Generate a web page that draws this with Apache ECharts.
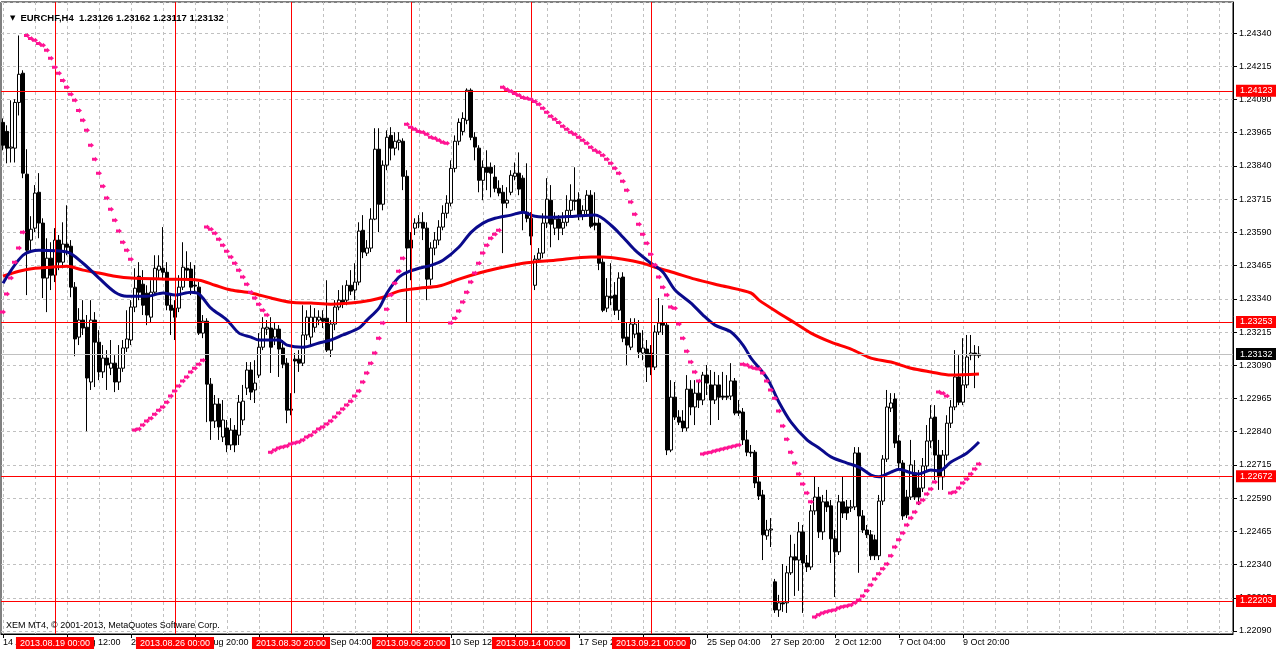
<!DOCTYPE html>
<html><head><meta charset="utf-8">
<script src="https://cdn.jsdelivr.net/npm/echarts@6/dist/echarts.min.js"></script>
<style>html,body{margin:0;padding:0;background:#fff}#c{width:1276px;height:652px}</style>
</head><body><div id="c"></div>
<script>
// Prices are stored in points (1 point = 0.00001)
const barOpen = [
124004,123970,123907,123907,124079,124189,123809,123561,123606,123741,
123625,123418,123493,123429,123561,123478,123546,123538,123384,123196,
123260,123233,123027,123260,123177,123065,123117,123079,123098,123027,
123079,123155,123185,123309,123425,123395,123361,123271,123365,123448,
123455,123440,123316,123305,123305,123384,123455,123452,123391,123384,
123211,123256,123019,122880,122944,122820,122854,122790,122846,122827,
122884,123004,123072,122997,123053,123158,123226,123230,123196,123226,
123155,123098,122925,123113,123113,123098,123204,123196,123233,123260,
123267,123267,123147,123245,123309,123335,123335,123391,123373,123403,
123598,123512,123531,123640,123903,123696,123843,123955,123907,123929,
123933,123801,123561,123606,123625,123628,123606,123414,123531,123561,
123610,123662,123700,123831,123933,123970,124012,124125,123948,123907,
123786,123835,123835,123798,123756,123741,123700,123741,123801,123813,
123794,123666,123643,123391,123489,123512,123625,123711,123606,123640,
123606,123628,123673,123711,123715,123655,123673,123730,123625,123625,
123478,123305,123350,123354,123297,123422,123196,123158,123207,123211,
123136,123151,123136,123083,123215,123249,123241,122771,122970,122895,
122880,122854,123000,122933,122985,122959,123053,123016,122959,123016,
122974,122974,122974,123031,122918,122914,122809,122763,122763,122651,
122602,122448,122470,122275,122169,122196,122196,122309,122369,122357,
122463,122346,122331,122542,122594,122463,122576,122561,122437,122388,
122576,122557,122553,122557,122760,122523,122470,122452,122433,122373,
122579,122737,122929,122963,122805,122722,122594,122594,122685,122628,
122628,122711,122805,122895,122752,122670,122752,122872,122933,123046,
122951,123016,123128,123136,123126];
const barHigh = [
124019,123993,124087,124091,124331,124200,123903,123651,123768,123813,
123643,123568,123553,123606,123580,123628,123692,123561,123403,123305,
123335,123279,123335,123290,123222,123166,123147,123185,123128,123166,
123185,123297,123335,123455,123478,123448,123391,123410,123504,123504,
123610,123478,123354,123335,123429,123553,123519,123478,123467,123403,
123279,123267,123042,122978,122966,122959,122884,122891,122865,122978,
123016,123102,123102,123109,123211,123271,123260,123271,123252,123241,
123185,123117,122985,123136,123147,123316,123297,123316,123305,123297,
123297,123410,123260,123335,123373,123391,123410,123448,123474,123628,
123655,123561,123681,123982,123982,123861,123974,123986,123967,123967,
123944,123824,123591,123643,123655,123666,123628,123553,123591,123636,
123692,123730,123861,123955,124019,124042,124132,124132,123967,123918,
123861,123899,123853,123843,123786,123768,123760,123824,123853,123891,
123805,123850,123666,123504,123531,123662,123794,123768,123666,123655,
123666,123730,123771,123835,123741,123692,123749,123749,123741,123643,
123493,123418,123474,123403,123440,123440,123252,123267,123267,123260,
123222,123185,123166,123241,123343,123316,123252,123034,123027,122921,
122921,123053,123034,123034,123034,123065,123091,123072,123065,123053,
123065,123053,123098,123042,122959,122929,122846,122790,122771,122670,
122621,122508,122515,122286,122226,122342,122335,122452,122418,122500,
122489,122376,122564,122670,122632,122602,122621,122583,122470,122602,
122670,122583,122583,122782,122782,122545,122489,122470,122452,122602,
122752,122997,122985,122985,122827,122733,122621,122809,122733,122696,
122741,122865,122940,122940,122809,122771,122902,122959,123147,123128,
123192,123204,123204,123166,123162];
const barLow = [
123899,123850,123853,123853,124030,123794,123354,123523,123591,123568,
123343,123290,123373,123403,123448,123455,123504,123346,123124,123166,
123204,122842,122997,123008,123034,123042,122997,123053,122989,122997,
123065,123140,123166,123290,123335,123279,123241,123252,123354,123418,
123410,123297,123204,123185,123290,123373,123418,123354,123365,123204,
123192,122876,122809,122854,122809,122801,122763,122771,122763,122790,
122865,122978,122959,122948,123042,123147,123204,123061,123166,123046,
123079,122872,122902,122985,123065,123087,123185,123166,123215,123241,
123230,123140,123121,123222,123297,123305,123316,123354,123335,123391,
123493,123501,123516,123636,123591,123673,123824,123861,123880,123899,
123749,123249,123410,123580,123606,123561,123335,123391,123504,123542,
123598,123643,123688,123816,123918,123955,123997,123937,123861,123741,
123711,123749,123722,123741,123726,123512,123681,123730,123786,123730,
123598,123628,123542,123373,123478,123493,123606,123534,123580,123561,
123580,123613,123655,123673,123636,123636,123658,123606,123598,123448,
123290,123290,123316,123279,123260,123177,123091,123147,123192,123117,
123109,123027,123053,123072,123204,123204,122752,122763,122884,122865,
122839,122842,122902,122865,122929,122940,122978,122865,122944,122884,
122959,122959,122959,122902,122899,122790,122748,122745,122628,122583,
122357,122433,122406,122158,122143,122162,122158,122301,122222,122241,
122158,122312,122320,122527,122440,122433,122538,122346,122218,122376,
122515,122508,122538,122545,122309,122459,122440,122357,122357,122357,
122564,122726,122914,122779,122703,122508,122515,122583,122583,122564,
122613,122696,122779,122658,122621,122621,122733,122854,122921,122940,
122940,123004,123109,123004,123117];
const barClose = [
123918,123907,123911,124079,124185,123813,123523,123602,123738,123625,
123418,123493,123429,123561,123478,123546,123534,123384,123189,123260,
123230,123042,123260,123177,123065,123117,123091,123098,123027,123079,
123155,123189,123309,123380,123365,123316,123279,123365,123455,123463,
123440,123316,123297,123271,123384,123459,123448,123384,123388,123211,
123256,123019,122880,122944,122858,122884,122790,122846,122790,122951,
122955,123072,122989,123023,123158,123230,123233,123158,123226,123151,
123094,122921,122921,123106,123098,123204,123271,123271,123271,123271,
123256,123147,123245,123309,123335,123324,123391,123369,123403,123595,
123516,123531,123640,123903,123696,123843,123948,123907,123933,123937,
123801,123531,123531,123625,123628,123606,123414,123531,123561,123610,
123662,123700,123831,123933,124004,124019,124125,123948,123911,123786,
123835,123816,123813,123756,123738,123700,123711,123805,123813,123753,
123666,123643,123576,123489,123512,123625,123715,123621,123640,123606,
123628,123673,123711,123707,123655,123673,123730,123613,123617,123474,
123297,123350,123343,123297,123418,123192,123166,123245,123245,123140,
123155,123083,123083,123215,123249,123241,122771,122970,122895,122876,
122854,123000,122933,122985,122959,123053,123023,122959,123016,122970,
122970,122970,123031,122910,122910,122809,122763,122760,122647,122598,
122452,122470,122474,122169,122196,122192,122309,122369,122357,122463,
122346,122331,122542,122594,122463,122576,122557,122437,122388,122576,
122534,122534,122557,122760,122523,122470,122452,122373,122373,122579,
122737,122933,122948,122797,122722,122523,122527,122715,122594,122594,
122711,122805,122891,122752,122670,122752,122872,122933,123046,122951,
123016,123121,123136,123128,123132];

// fast moving average (navy), read at selected bars
const maFastBar = [0,5,9,16,20,24,28,31,36,40,43,47,49,52,56,59,62,64,69,71,75,79,82,85,89,91,94,96,99,101,104,107,110,114,117,120,123,127,130,133,138,143,148,152,155,158,162,165,168,172,175,178,182,185,187,191,194,197,201,204,207,211,214,217,219,222,224,227,229,232,234,237,241,244];
const maFastVal = [123399,123504,123523,123516,123474,123418,123365,123350,123350,123362,123354,123365,123358,123305,123260,123211,123196,123185,123185,123166,123158,123174,123185,123204,123230,123260,123305,123362,123422,123440,123455,123466,123485,123535,123590,123625,123643,123655,123666,123651,123647,123651,123655,123617,123572,123523,123474,123440,123373,123324,123279,123241,123215,123166,123117,123042,122951,122876,122809,122779,122745,122722,122707,122677,122670,122688,122699,122685,122681,122696,122692,122726,122760,122801];
// slow moving average (red)
const maSlowBar = [0,4,8,12,16,20,24,28,32,41,49,53,57,62,67,72,77,82,87,92,95,99,104,109,114,119,123,130,138,147,150,155,160,163,168,173,180,187,189,194,198,202,207,212,217,222,227,232,237,244];
const maSlowVal = [123425,123444,123455,123459,123463,123448,123437,123425,123418,123414,123410,123391,123373,123362,123343,123327,123324,123320,123324,123335,123346,123369,123380,123388,123414,123437,123452,123474,123485,123497,123497,123489,123474,123459,123437,123414,123388,123362,123335,123286,123249,123211,123177,123151,123117,123102,123079,123065,123053,123057];
// parabolic SAR, one per bar
const sarValues = [
123290,123358,123418,123478,123531,123591,124331,124320,124313,124301,
124294,124275,124245,124211,124189,124162,124136,124110,124087,124049,
124012,123974,123918,123865,123813,123764,123719,123677,123636,123595,
123553,123523,123489,122846,122850,122865,122880,122891,122906,122921,
122933,122951,122974,122993,123012,123031,123046,123065,123079,123094,
123109,123610,123602,123587,123564,123542,123519,123497,123474,123448,
123422,123395,123365,123343,123320,123297,123279,122763,122771,122779,
122782,122786,122794,122797,122801,122809,122820,122827,122839,122850,
122858,122869,122880,122895,122910,122925,122940,122955,122974,122993,
123027,123061,123098,123136,123192,123249,123301,123354,123399,123444,
123493,123997,123986,123978,123970,123967,123959,123948,123944,123937,
123929,123925,123249,123267,123294,123328,123365,123403,123437,123474,
123512,123542,123568,123583,123598,124136,124128,124121,124113,124106,
124098,124095,124091,124083,124072,124057,124042,124027,124016,124004,
123989,123978,123967,123959,123948,123937,123925,123910,123899,123892,
123880,123865,123850,123831,123813,123782,123749,123704,123658,123621,
123583,123549,123508,123467,123422,123384,123354,123309,123305,123245,
123192,123143,123102,123065,123031,122756,122760,122763,122767,122771,
122775,122779,122782,122786,122790,123094,123091,123083,123079,123076,
123061,123031,122997,122966,122918,122861,122812,122763,122722,122681,
122643,122609,122576,122143,122151,122158,122162,122166,122169,122177,
122181,122184,122188,122196,122207,122222,122241,122263,122286,122305,
122324,122342,122373,122406,122433,122459,122489,122515,122538,122572,
122583,122606,122624,122651,122989,122985,122974,122609,122613,122628,
122647,122662,122681,122700,122718];

const tickBars = [0,16,32,48,64,80,96,112,128,144,160,176,192,208,224,240];
const tickLabels = ['14 Aug 2013','19 Aug 12:00','22 Aug 04:00','26 Aug 20:00','29 Aug 12:00','3 Sep 04:00','5 Sep 20:00','10 Sep 12:00','13 Sep 04:00','17 Sep 20:00','20 Sep 12:00','25 Sep 04:00','27 Sep 20:00','2 Oct 12:00','7 Oct 04:00','9 Oct 20:00'];
const vLineBars = [13,43,72,102,132,162];
const vLineLabels = ['2013.08.19 00:00','2013.08.26 00:00','2013.08.30 20:00','2013.09.06 20:00','2013.09.14 00:00','2013.09.21 00:00'];
const hLinePrices = [124123,123253,122672,122203];
const bidPrice = 123132;
const yMin = 122090, yMax = 124457, yStep = 125;
const SLOTS = 308; // bars + empty shift area on the right

const fmt = v => (v / 100000).toFixed(5);
const cats = Array.from({length: SLOTS}, (_, i) => String(i));
const labelAt = {};
tickBars.forEach((b, k) => { labelAt[b] = tickLabels[k]; });
const candleData = barOpen.map((o, i) => [o, barClose[i], barLow[i], barHigh[i]]);
const fastData = maFastBar.map((b, k) => [b, maFastVal[k]]);
const slowData = maSlowBar.map((b, k) => [b, maSlowVal[k]]);
const sarData = sarValues.map((v, i) => [i, v]);

const FONT = 'Liberation Sans';
const boxLabel = (text, bg, pos) => ({
  show: true, position: pos, formatter: text, backgroundColor: bg, color: '#fff',
  padding: [2, 4, 1, 4], fontSize: 9, fontFamily: FONT, distance: 3
});
const hLines = hLinePrices.map(p => ({
  yAxis: p, lineStyle: {color: '#ff0000', width: 1, type: 'solid'}, label: boxLabel(fmt(p), '#ff0000', 'end')
}));
hLines.push({yAxis: bidPrice, lineStyle: {color: '#c0c0c0', width: 1, type: 'solid'}, label: boxLabel(fmt(bidPrice), '#000000', 'end')});
const vLines = vLineBars.map((b, k) => ({
  xAxis: b, lineStyle: {color: '#ff0000', width: 1, type: 'solid'}, label: boxLabel(vLineLabels[k], '#ff0000', 'start')
}));

const chart = echarts.init(document.getElementById('c'), null, {renderer: 'canvas'});
chart.setOption({
  animation: false,
  backgroundColor: '#ffffff',
  textStyle: {fontFamily: FONT},
  title: {
    text: '{t|▼} {s|EURCHF,H4  1.23126 1.23162 1.23117 1.23132}',
    left: 5, top: 4,
    textStyle: {rich: {t: {fontSize: 7, color: '#000', fontFamily: 'DejaVu Sans'}, s: {fontSize: 9.5, color: '#000', fontFamily: FONT}}}
  },
  graphic: [{type: 'text', left: 6, top: 621, z: 10,
    style: {text: 'XEM MT4, © 2001-2013, MetaQuotes Software Corp.', font: '9px "Liberation Sans"', fill: '#000'}}],
  grid: [
    {left: 1, top: 2, width: 1232, height: 629},
    {left: 1, top: 2, width: 1232, height: 632, show: true, borderColor: '#000', borderWidth: 1, backgroundColor: 'transparent'}
  ],
  xAxis: [
    {type: 'category', gridIndex: 0, data: cats, boundaryGap: true, show: false},
    {type: 'category', gridIndex: 1, data: cats, boundaryGap: true,
      axisLine: {show: true, lineStyle: {color: '#000'}},
      axisTick: {show: true, alignWithLabel: true, length: 4, interval: i => (i in labelAt), lineStyle: {color: '#000'}},
      axisLabel: {interval: i => (i in labelAt), formatter: (v, i) => labelAt[i] || '', align: 'left', margin: 4, fontSize: 9, color: '#000', fontFamily: FONT},
      splitLine: {show: true, alignWithLabel: true, interval: i => i % 8 === 0, lineStyle: {color: '#c0c0c0', type: [3, 3], width: 1}}}
  ],
  yAxis: [
    {type: 'value', gridIndex: 0, position: 'right', min: yMin, max: yMax, interval: yStep,
      axisLine: {show: true, lineStyle: {color: '#000'}},
      axisTick: {show: true, length: 4, lineStyle: {color: '#000'}},
      axisLabel: {formatter: v => fmt(v), fontSize: 9, color: '#000', margin: 6, showMaxLabel: false, showMinLabel: true, fontFamily: FONT},
      splitLine: {show: true, lineStyle: {color: '#c0c0c0', type: [3, 3], width: 1}}},
    {type: 'value', gridIndex: 1, min: 0, max: 1, show: false}
  ],
  series: [
    {type: 'candlestick', xAxisIndex: 0, yAxisIndex: 0, data: candleData, barWidth: 3, z: 3,
      itemStyle: {color: '#ffffff', color0: '#000000', borderColor: '#000000', borderColor0: '#000000', borderWidth: 1},
      markLine: {symbol: 'none', silent: true, animation: false, data: hLines}},
    {type: 'line', xAxisIndex: 0, yAxisIndex: 0, data: slowData, showSymbol: false, smooth: 0.3, z: 4,
      lineStyle: {color: '#ff0000', width: 3}},
    {type: 'line', xAxisIndex: 0, yAxisIndex: 0, data: fastData, showSymbol: false, smooth: 0.3, z: 4,
      lineStyle: {color: '#0a0a8c', width: 3}},
    {type: 'scatter', xAxisIndex: 0, yAxisIndex: 0, data: sarData, z: 5,
      symbol: 'path://M0,1H3V0L6,2.5L3,5V4H0Z', symbolSize: [6, 5], itemStyle: {color: '#ff1493', opacity: 1}},
    {type: 'line', xAxisIndex: 1, yAxisIndex: 1, data: [], z: 6,
      markLine: {symbol: 'none', silent: true, animation: false, data: vLines}}
  ]
});
</script></body></html>
